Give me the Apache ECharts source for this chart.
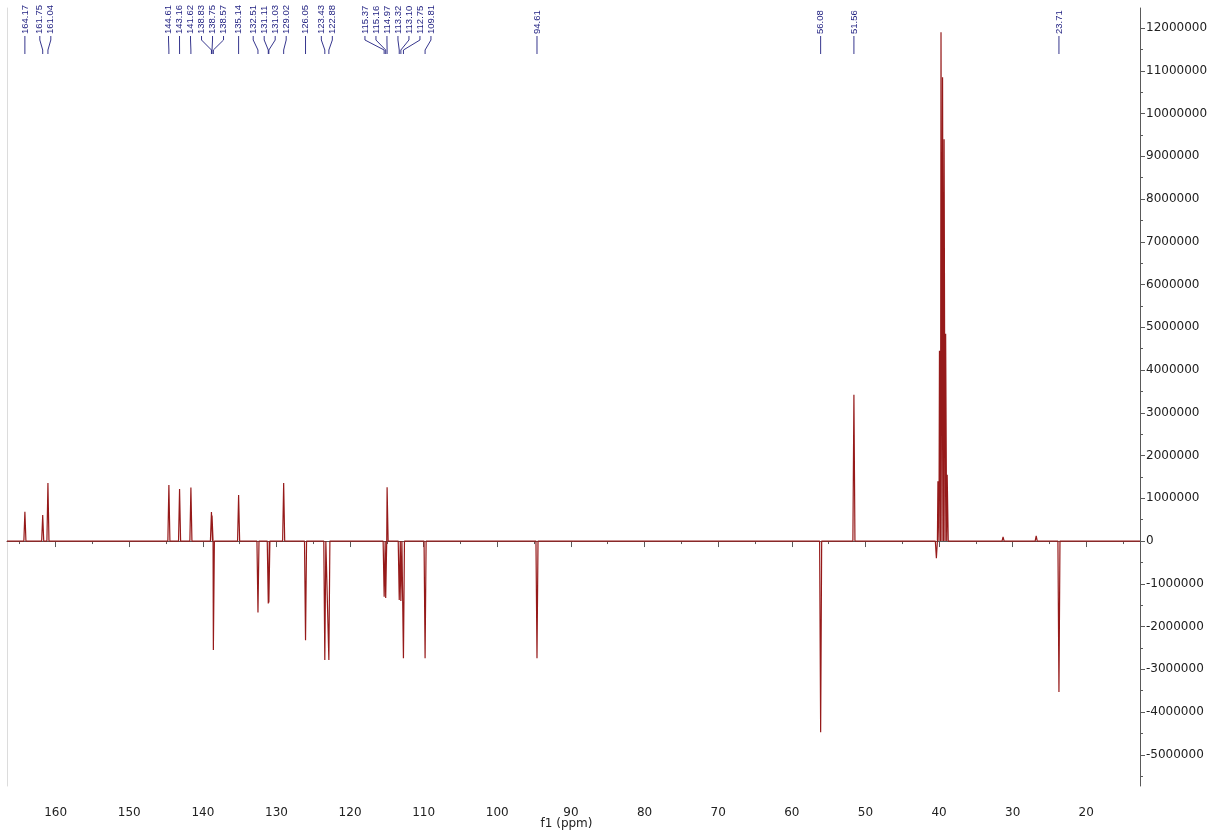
<!DOCTYPE html>
<html><head><meta charset="utf-8">
<script src="https://cdn.jsdelivr.net/npm/echarts@6/dist/echarts.min.js"></script>
<style>html,body{margin:0;padding:0;background:#fff}#c{width:1212px;height:831px}</style>
</head><body><div id="c"></div>
<script>
// Labelled peaks (ppm) and their intensities
const peakPpm = [164.17,161.75,161.04,144.61,143.16,141.62,138.83,138.75,138.57,135.14,132.51,131.11,131.03,129.02,126.05,123.43,122.88,115.37,115.16,114.97,113.32,113.10,112.75,109.81,94.61,56.08,51.56,23.71];
const peakHeight = [685000,610000,1360000,1310000,1220000,1250000,680000,600000,-2550000,1080000,-1670000,-1460000,-1440000,1360000,-2320000,-2780000,-2780000,-1300000,-1330000,1260000,-1380000,-1400000,-2740000,-2740000,-2740000,-4470000,3420000,-3530000];
// Solvent (DMSO-d6) multiplet, not labelled
const solventPpm = [40.36,40.15,39.94,39.73,39.52,39.31,39.10,38.89];
const solventHeight = [-400000,1400000,4450000,11900000,10850000,9400000,4850000,1550000];
// Small baseline features
const minorPpm = [31.3,26.8];
const minorHeight = [100000,120000];
// Axis ticks
const xTickLabels = [160,150,140,130,120,110,100,90,80,70,60,50,40,30,20];
const xMinorTicks = [165,155,145,135,125,115,105,95,85,75,65,55,45,35,25,15];
const yTickLabels = [-5000000,-4000000,-3000000,-2000000,-1000000,0,1000000,2000000,3000000,4000000,5000000,6000000,7000000,8000000,9000000,10000000,11000000,12000000];
const yMinorTicks = [-5500000,-4500000,-3500000,-2500000,-1500000,-500000,500000,1500000,2500000,3500000,4500000,5500000,6500000,7500000,8500000,9500000,10500000,11500000];
const X_MIN = 12.7, X_MAX = 166.6, Y_MIN = -5730000, Y_MAX = 12470000;

const HW = 0.14;
const allPeaks = [];
peakPpm.forEach((p,i)=>allPeaks.push([p,peakHeight[i]]));
solventPpm.forEach((p,i)=>allPeaks.push([p,solventHeight[i]]));
minorPpm.forEach((p,i)=>allPeaks.push([p,minorHeight[i]]));
allPeaks.sort((a,b)=>b[0]-a[0]);
const lineData = [[X_MAX,0]];
allPeaks.forEach(([p,h])=>{lineData.push([p+HW,0],[p,h],[p-HW,0]);});
lineData.push([X_MIN,0]);

const FONT = 'DejaVu Sans';
const axisCol = '#5a5a5a';
const txtCol = '#222';
const chart = echarts.init(document.getElementById('c'));
const xBase = {type:'value', inverse:true, min:X_MIN, max:X_MAX, position:'bottom', splitLine:{show:false}};
const yBase = {type:'value', min:Y_MIN, max:Y_MAX, splitLine:{show:false}};
chart.setOption({
  animation:false,
  backgroundColor:'#fff',
  grid:{left:7, right:72, top:8, bottom:45, show:false, containLabel:false, outerBoundsMode:'none'},
  xAxis:[
    Object.assign({}, xBase, {offset:0, axisLine:{show:true, lineStyle:{color:'#dcdcdc'}}, axisTick:{show:false}, axisLabel:{show:false}}),
    Object.assign({}, xBase, {offset:6, axisLine:{show:true, lineStyle:{color:axisCol}},
      axisTick:{show:true, customValues:xTickLabels, length:6, lineStyle:{color:axisCol}},
      axisLabel:{show:true, customValues:xTickLabels, margin:15, color:txtCol, fontSize:12, fontFamily:FONT},
      name:'f1 (ppm)', nameLocation:'middle', nameGap:26, nameMoveOverlap:false,
      nameTextStyle:{color:txtCol, fontSize:12, fontFamily:FONT, padding:[0,14,0,0]}}),
    Object.assign({}, xBase, {offset:6, axisLine:{show:false},
      axisTick:{show:true, customValues:xMinorTicks, length:3, lineStyle:{color:axisCol}}, axisLabel:{show:false}})
  ],
  yAxis:[
    Object.assign({}, yBase, {position:'right', axisLine:{show:true, lineStyle:{color:axisCol}},
      axisTick:{show:true, customValues:yTickLabels, length:5, lineStyle:{color:axisCol}},
      axisLabel:{show:true, customValues:yTickLabels, margin:6, color:txtCol, fontSize:12, fontFamily:FONT, formatter:v=>String(Math.round(v))}}),
    Object.assign({}, yBase, {position:'right', axisLine:{show:false},
      axisTick:{show:true, customValues:yMinorTicks, length:3, lineStyle:{color:axisCol}}, axisLabel:{show:false}}),
    Object.assign({}, yBase, {position:'left', axisLine:{show:true, lineStyle:{color:'#dcdcdc'}}, axisTick:{show:false}, axisLabel:{show:false}})
  ],
  series:[{
    type:'line', xAxisIndex:0, yAxisIndex:0, data:lineData, showSymbol:false, symbol:'none',
    lineStyle:{color:'#961a1a', width:1.2}, silent:true
  }]
});

// Peak labels: spread overlapping labels, connect to peak positions
const SP = 11;
const items = peakPpm.map((p)=>({ppm:p, px:chart.convertToPixel({xAxisIndex:0}, p)})).sort((a,b)=>a.px-b.px);
let clusters = items.map(it=>({members:[it]}));
function place(c){const n=c.members.length;const mean=c.members.reduce((s,m)=>s+m.px,0)/n;c.start=mean-(n-1)*SP/2;c.end=c.start+(n-1)*SP;}
clusters.forEach(place);
let merged=true;
while(merged){
  merged=false;
  for(let i=0;i<clusters.length-1;i++){
    if(clusters[i].end+SP>clusters[i+1].start){
      clusters[i].members=clusters[i].members.concat(clusters[i+1].members);
      clusters.splice(i+1,1);place(clusters[i]);merged=true;break;
    }
  }
}
const labelCol = '#1f1f80';
const graphics = [];
clusters.forEach(c=>{
  c.members.forEach((m,k)=>{
    const lx = c.start + k*SP;
    graphics.push({type:'text', x:lx, y:34, rotation:Math.PI/2, silent:true,
      style:{text:m.ppm.toFixed(2), fill:labelCol, font:'9.5px "Liberation Sans"', align:'left', verticalAlign:'middle'}});
    graphics.push({type:'polyline', silent:true, shape:{points:[[lx,36],[lx,40],[m.px,50],[m.px,54]]},
      style:{stroke:labelCol, lineWidth:0.9, fill:null}});
  });
});
chart.setOption({graphic:graphics});
</script>
</body></html>
